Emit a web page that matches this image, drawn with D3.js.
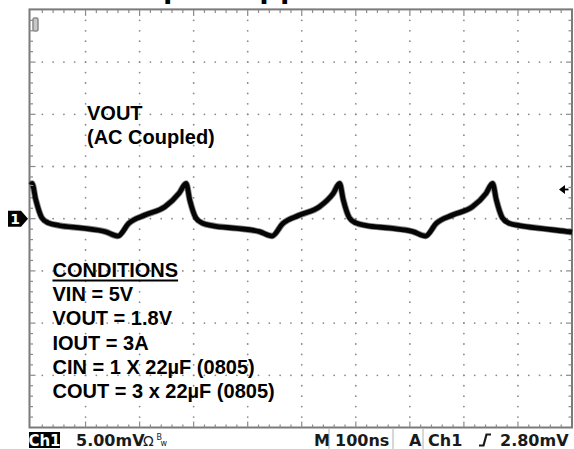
<!DOCTYPE html>
<html>
<head>
<meta charset="utf-8">
<script src="https://cdn.jsdelivr.net/npm/d3@7"></script>
<style>
  body { margin: 0; background: #fff; }
  svg { display: block; }
</style>
</head>
<body>
<svg id="scope" width="574" height="449"></svg>
<script>
// trace: time in ns from left edge, ripple in mV (AC coupled)
var timeNs = [0, 1, 8, 19, 31, 51, 94, 137, 160, 180, 210, 247, 273,
              286, 293, 304, 316, 336, 379, 422, 445, 465, 495, 532, 558,
              570, 577, 588, 600, 620, 663, 706, 729, 749, 779, 816, 841,
              853, 860, 871, 883, 903, 946, 989, 1000];
var rippleMv = [3.25, 3.38, 1.8, 0.1, -0.4, -0.65, -0.9, -1.25, -1.66, -0.44, 0.35, 1.15, 2.43,
                3.38, 1.75, 0.08, -0.42, -0.68, -0.92, -1.24, -1.66, -0.46, 0.33, 1.12, 2.4,
                3.38, 1.78, 0.1, -0.4, -0.66, -0.9, -1.24, -1.66, -0.44, 0.35, 1.15, 2.43,
                3.38, 1.8, 0.1, -0.42, -0.66, -0.95, -1.22, -1.3];

var titleText = "Output Ripple";
var probeLabel = ["VOUT", "(AC Coupled)"];
var conditions = ["CONDITIONS", "VIN = 5V", "VOUT = 1.8V", "IOUT = 3A",
                  "CIN = 1 X 22µF (0805)", "COUT = 3 x 22µF (0805)"];
var voltsPerDiv = "5.00mV";
var timePerDiv = "100ns";
var triggerLevel = 2.8;
var triggerText = "2.80mV";

var svg = d3.select("#scope");

// 10 x 8 divisions, 100ns/div and 5mV/div
var x = d3.scaleLinear().domain([0, 1000]).range([31.5, 572]);
var y = d3.scaleLinear().domain([-20, 20]).range([427.5, 9.9]);

var gridColor = "#8a8a8a";

// title, mostly cut off above the screen
svg.append("text")
	.attr("x", 104.5).attr("y", -3)
	.style("font-family", "Liberation Sans, Arial, sans-serif")
	.style("font-weight", "bold")
	.style("font-size", "34px")
	.text(titleText);

// dotted graticule
var g = svg.append("g");
var majorX = d3.range(100, 1000, 100);
var majorY = d3.range(-15, 20, 5);
var minorX = d3.range(20, 1000, 20);
var minorY = d3.range(-19, 20, 1);

majorX.forEach(function(t) {
	g.selectAll(null).data(minorY).enter().append("circle")
		.attr("cx", x(t)).attr("cy", function(d) { return y(d); })
		.attr("r", 0.9)
		.attr("fill", gridColor);
});
majorY.forEach(function(v) {
	g.selectAll(null).data(minorX).enter().append("circle")
		.attr("cx", function(d) { return x(d); }).attr("cy", y(v))
		.attr("r", 0.9)
		.attr("fill", gridColor);
});

// frame + edge ticks
g.append("rect")
	.attr("x", 29.5).attr("y", y(20) - 0.5)
	.attr("width", x(1000) - 29.5).attr("height", y(-20) - y(20) + 0.5)
	.attr("fill", "none")
	.attr("stroke", "#7a7a7a")
	.attr("stroke-width", 2);

g.selectAll(".tickTop").data(minorX).enter().append("line")
	.attr("x1", x).attr("x2", x)
	.attr("y1", y(20)).attr("y2", function(d) { return y(20) + (d % 100 == 0 ? 6 : 3); })
	.attr("stroke", gridColor).attr("stroke-width", 1.2);
g.selectAll(".tickBot").data(minorX).enter().append("line")
	.attr("x1", x).attr("x2", x)
	.attr("y1", y(-20)).attr("y2", function(d) { return y(-20) - (d % 100 == 0 ? 6 : 3); })
	.attr("stroke", gridColor).attr("stroke-width", 1.2);
g.selectAll(".tickLeft").data(minorY).enter().append("line")
	.attr("x1", 29.5).attr("x2", function(d) { return 29.5 + (d % 5 == 0 ? 6 : 3.5); })
	.attr("y1", y).attr("y2", y)
	.attr("stroke", gridColor).attr("stroke-width", 1.2);
g.selectAll(".tickRight").data(minorY).enter().append("line")
	.attr("x1", x(1000)).attr("x2", function(d) { return x(1000) - (d % 5 == 0 ? 6 : 3.5); })
	.attr("y1", y).attr("y2", y)
	.attr("stroke", gridColor).attr("stroke-width", 1.2);

// trigger position marker, top left
g.append("rect")
	.attr("x", 33).attr("y", 18).attr("width", 5).attr("height", 13).attr("rx", 1.5)
	.attr("fill", "#c8c8c8").attr("stroke", "#8a8a8a").attr("stroke-width", 1.5);

// trace
var trace = timeNs.map(function(t, i) { return [t, rippleMv[i]]; });
var line = d3.line()
	.x(function(d) { return x(d[0]); })
	.y(function(d) { return y(d[1]); })
	.curve(d3.curveMonotoneX);

svg.append("path").datum(trace)
	.attr("d", line)
	.attr("fill", "none").attr("stroke", "#000")
	.attr("stroke-opacity", 0.45).attr("stroke-width", 6.5)
	.attr("stroke-linejoin", "round");
svg.append("path").datum(trace)
	.attr("d", line)
	.attr("fill", "none").attr("stroke", "#050505")
	.attr("stroke-width", 4.8)
	.attr("stroke-linejoin", "round");

// ground reference marker "1"
var gy = y(0);
svg.append("path")
	.attr("d", "M8," + (gy - 8) + "H21L28," + gy + "L21," + (gy + 8) + "H8Z")
	.attr("fill", "#000");
svg.append("text")
	.attr("x", 15).attr("y", gy + 5.5)
	.attr("text-anchor", "middle")
	.style("font-family", "DejaVu Sans, sans-serif").style("font-weight", "bold")
	.style("font-size", "14px").attr("fill", "#fff")
	.text("1");

// trigger level arrow
var ty = y(triggerLevel);
svg.append("path")
	.attr("d", "M559," + ty + "L565," + (ty - 4.5) + "V" + (ty + 4.5) + "Z")
	.attr("fill", "#000");
svg.append("line")
	.attr("x1", 563).attr("x2", 568.5).attr("y1", ty).attr("y2", ty)
	.attr("stroke", "#000").attr("stroke-width", 1.8);

// annotations
var note = svg.append("g")
	.style("font-family", "Liberation Sans, Arial, sans-serif")
	.style("font-weight", "bold")
	.style("font-size", "20px");

note.selectAll(".probe").data(probeLabel).enter().append("text")
	.attr("x", 87).attr("y", function(d, i) { return 120 + i * 24; })
	.text(function(d) { return d; });

note.selectAll(".cond").data(conditions).enter().append("text")
	.attr("x", 52.5).attr("y", function(d, i) { return 277 + i * 24.2; })
	.text(function(d) { return d; });

var headBox = note.selectAll("text").filter(function(d) { return d == conditions[0]; }).node().getBBox();
note.append("line")
	.attr("x1", headBox.x).attr("x2", headBox.x + headBox.width)
	.attr("y1", 280.5).attr("y2", 280.5)
	.attr("stroke", "#000").attr("stroke-width", 2);

// status bar
var bar = svg.append("g")
	.style("font-family", "DejaVu Sans, sans-serif")
	.style("font-weight", "bold")
	.style("font-size", "16px")
	.attr("fill", "#1a1a1a");

bar.append("rect").attr("x", 29).attr("y", 432).attr("width", 31).attr("height", 16).attr("fill", "#000");
bar.append("text").attr("x", 44.5).attr("y", 446).attr("text-anchor", "middle")
	.attr("fill", "#fff").style("font-size", "15px").text("Ch1");
bar.append("text").attr("x", 76).attr("y", 445.5).text(voltsPerDiv);
bar.append("text").attr("x", 143).attr("y", 445.5).style("font-weight", "normal").style("font-size", "14px").text("Ω");
bar.append("text").attr("x", 156.5).attr("y", 440).style("font-weight", "normal").style("font-size", "8px").text("B");
bar.append("text").attr("x", 160.5).attr("y", 446).style("font-weight", "normal").style("font-size", "8px").text("w");

[329, 393, 423].forEach(function(px) {
	bar.append("line").attr("x1", px).attr("x2", px).attr("y1", 429).attr("y2", 449)
		.attr("stroke", "#b0b0b0").attr("stroke-width", 1);
});
bar.append("text").attr("x", 314).attr("y", 445.5).text("M");
bar.append("text").attr("x", 335).attr("y", 445.5).text(timePerDiv);
bar.append("text").attr("x", 409).attr("y", 445.5).text("A");
bar.append("text").attr("x", 428).attr("y", 445.5).text("Ch1");
bar.append("path")
	.attr("d", "M479,445.5H483.5L486.5,434.5H491")
	.attr("fill", "none").attr("stroke", "#1a1a1a").attr("stroke-width", 2.2);
bar.append("text").attr("x", 500).attr("y", 445.5).text(triggerText);
</script>
</body>
</html>
